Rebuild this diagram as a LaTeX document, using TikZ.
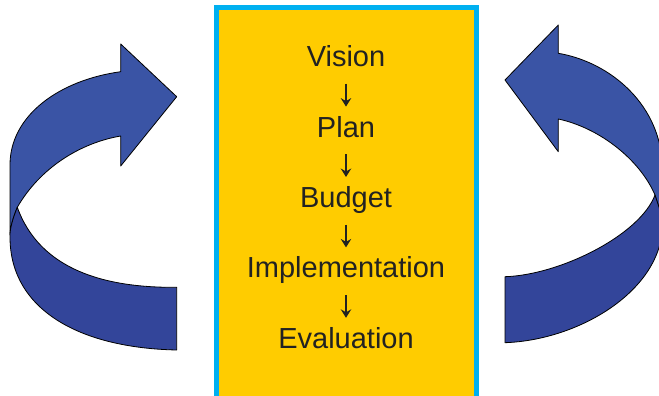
\documentclass[tikz,border=0pt]{standalone}
\usepackage{fontspec}
\setmainfont{Liberation Sans}
\usetikzlibrary{arrows.meta}
\definecolor{bandtop}{RGB}{58,84,165}
\definecolor{bandlow}{RGB}{51,69,154}
\definecolor{boxfill}{RGB}{255,204,0}
\definecolor{boxline}{RGB}{0,176,240}
\definecolor{ink}{RGB}{34,34,34}
\begin{document}
\begin{tikzpicture}[x=1pt,y=-1pt,
  bandup/.style={fill=bandtop,draw=black,line width=0.8pt,line join=round},
  bandlo/.style={fill=bandlow,draw=black,line width=0.8pt,line join=round},
  panel/.style={draw=boxline,fill=boxfill,line width=5.5pt},
  stage/.style={font=\fontsize{29}{31}\selectfont, text=ink, inner sep=0pt, anchor=base, text height=21.8pt, text depth=7.2pt},
  flow/.style={draw=ink, line width=1.3pt, -{Stealth[length=8.5pt,width=10.5pt,inset=3pt]}, shorten <=9.6pt, shorten >=8.5pt}]
\useasboundingbox (0,0) rectangle (659,396);
\clip (0,0) rectangle (659,396);
% central panel
\path[panel] (216.3,7.3) rectangle (476.3,410);
% left curved arrow
\path[bandup] (120.7,136) .. controls (80,143) and (40,168) .. (17.3,207.3)
  .. controls (13,218) and (10,228) .. (10,235) -- (10,165)
  .. controls (10,115) and (60,80) .. (120.7,71.7) -- (120.7,44) -- (176.7,96.7) -- (120.7,166) -- cycle;
\path[bandlo] (17.3,207.3) .. controls (40,270) and (105,288) .. (176.7,287.3) -- (176.7,350)
  .. controls (80,348) and (10,310) .. (10,237) -- (10,235)
  .. controls (10,228) and (13,218) .. (17.3,207.3) -- cycle;
% right curved arrow
\path[bandup] (558.3,119) .. controls (600,128) and (640,160) .. (655,195)
  .. controls (658,205) and (662.5,215) .. (662.5,225) -- (662.5,170)
  .. controls (662.5,105) and (610,62) .. (558.3,53.3) -- (558.3,25) -- (505,80) -- (558.3,151.7) -- cycle;
\path[bandlo] (655,195) .. controls (640,235) and (560,275) .. (505,276.7) -- (505,342.7)
  .. controls (580,340) and (662,290) .. (662.5,225)
  .. controls (662.5,215) and (658,205) .. (655,195) -- cycle;
% stages
\node[stage] (vision) at (346,66.7) {Vision};
\node[stage] (plan) at (346,137.1) {Plan};
\node[stage] (budget) at (346,207.5) {Budget};
\node[stage] (impl) at (346,277.9) {Implementation};
\node[stage] (eval) at (346,348.3) {Evaluation};
\draw[flow] (vision) -- (plan);
\draw[flow] (plan) -- (budget);
\draw[flow] (budget) -- (impl);
\draw[flow] (impl) -- (eval);
\end{tikzpicture}
\end{document}
